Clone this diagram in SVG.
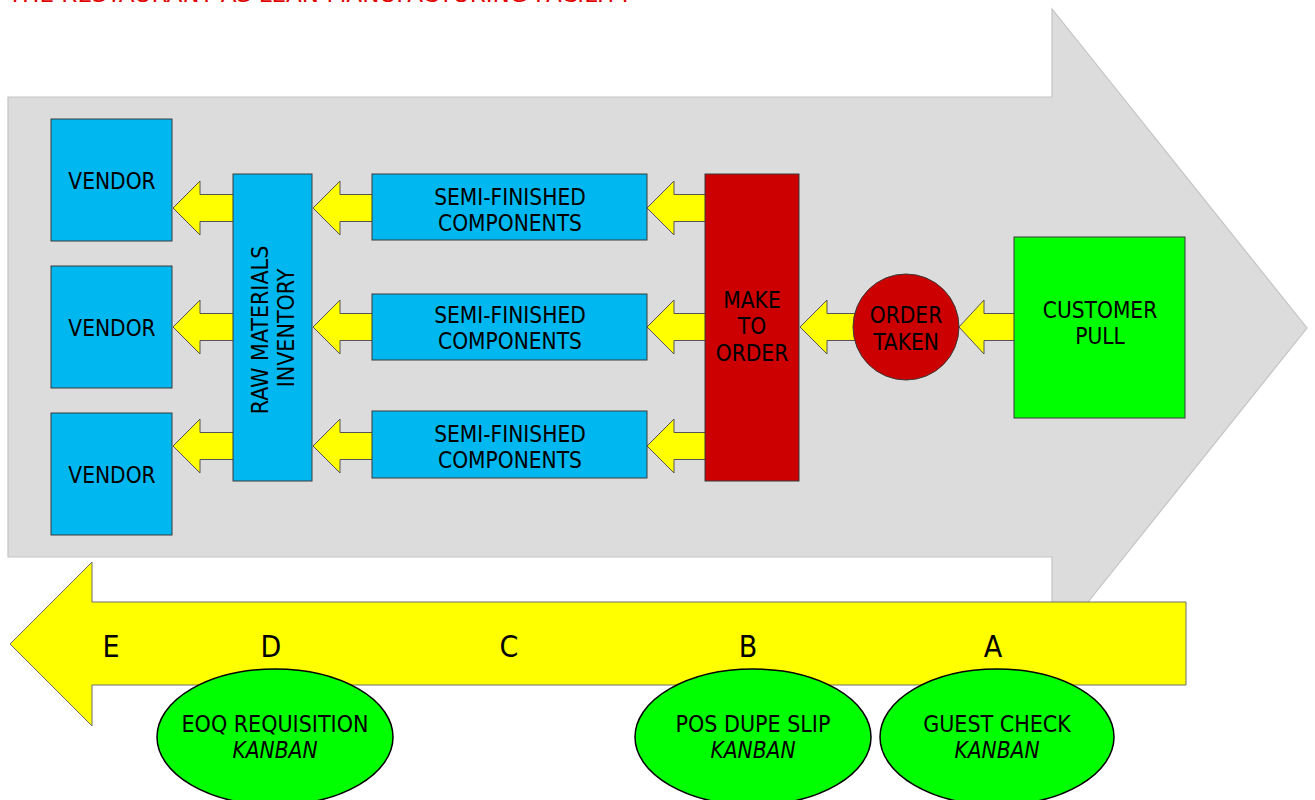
<svg xmlns="http://www.w3.org/2000/svg" width="1315" height="800" viewBox="0 0 1315 800">
<style>
  text { font-family: "DejaVu Sans Condensed", "DejaVu Sans", sans-serif; font-stretch: condensed; fill: #000; text-anchor: middle; font-size: 22.5px; }
  .blue { fill: #00b7ef; stroke: #3a3a3a; stroke-width: 1; }
  .red { fill: #cc0000; stroke: #3a3a3a; stroke-width: 1; }
  .green { fill: #00ff00; stroke: #3a3a3a; stroke-width: 1; }
  .kanban { fill: #00ff00; stroke: #000; stroke-width: 1.5; }
  .flow { fill: #ffff00; stroke: #555; stroke-width: 1; stroke-linejoin: miter; }
  .big { font-size: 30px; }
  .ital { font-style: italic; }
</style>
<rect width="1315" height="800" fill="#ffffff"/>
<text x="8" y="2" style="text-anchor:start; fill:#e00000; font-size:22px" textLength="624" lengthAdjust="spacingAndGlyphs">THE RESTAURANT AS LEAN MANUFACTURING FACILITY</text>

<g id="backbone">
  <polygon points="8,97 1052,97 1052,9 1307,328 1052,647 1052,557 8,557" fill="#dcdcdc" stroke="#c4c4c4" stroke-width="1.2"/>
</g>

<g id="return-arrow">
  <polygon points="1186,602 92,602 92,562 10,644 92,726 92,685 1186,685" fill="#ffff00" stroke="#6f6f6f" stroke-width="1"/>
  <text class="big" x="111" y="657">E</text>
  <text class="big" x="271" y="657">D</text>
  <text class="big" x="509" y="657">C</text>
  <text class="big" x="748" y="657">B</text>
  <text class="big" x="993" y="657">A</text>
</g>

<g id="connectors">
  <polygon class="flow" points="173,208 200,181 200,194.5 240,194.5 240,221.5 200,221.5 200,235"/>
  <polygon class="flow" points="173,327 200,300 200,313.5 240,313.5 240,340.5 200,340.5 200,354"/>
  <polygon class="flow" points="173,446 200,419 200,432.5 240,432.5 240,459.5 200,459.5 200,473"/>
  <polygon class="flow" points="313,208 340,181 340,194.5 380,194.5 380,221.5 340,221.5 340,235"/>
  <polygon class="flow" points="313,327 340,300 340,313.5 380,313.5 380,340.5 340,340.5 340,354"/>
  <polygon class="flow" points="313,446 340,419 340,432.5 380,432.5 380,459.5 340,459.5 340,473"/>
  <polygon class="flow" points="647,208 674,181 674,194.5 712,194.5 712,221.5 674,221.5 674,235"/>
  <polygon class="flow" points="647,327 674,300 674,313.5 712,313.5 712,340.5 674,340.5 674,354"/>
  <polygon class="flow" points="647,446 674,419 674,432.5 712,432.5 712,459.5 674,459.5 674,473"/>
  <polygon class="flow" points="800,327 827,300 827,313.5 862,313.5 862,340.5 827,340.5 827,354"/>
  <polygon class="flow" points="959,327 984,300 984,313.5 1020,313.5 1020,340.5 984,340.5 984,354"/>
</g>

<g id="vendor1"><rect class="blue" x="51" y="119" width="121" height="122"/><text x="112" y="189">VENDOR</text></g>
<g id="vendor2"><rect class="blue" x="51" y="266" width="121" height="122"/><text x="112" y="336">VENDOR</text></g>
<g id="vendor3"><rect class="blue" x="51" y="413" width="121" height="122"/><text x="112" y="483">VENDOR</text></g>

<g id="raw-materials">
  <rect class="blue" x="233" y="174" width="79" height="307"/>
  <g transform="translate(272,330) rotate(-90)">
    <text x="0" y="-4" style="font-size:23px">RAW MATERIALS</text>
    <text x="2" y="22" style="font-size:23px">INVENTORY</text>
  </g>
</g>

<g id="semi1"><rect class="blue" x="372" y="174" width="275" height="66"/><text x="510" y="205">SEMI-FINISHED</text><text x="510" y="231">COMPONENTS</text></g>
<g id="semi2"><rect class="blue" x="372" y="294" width="275" height="66"/><text x="510" y="323">SEMI-FINISHED</text><text x="510" y="349">COMPONENTS</text></g>
<g id="semi3"><rect class="blue" x="372" y="411" width="275" height="67"/><text x="510" y="442">SEMI-FINISHED</text><text x="510" y="468">COMPONENTS</text></g>

<g id="make-to-order">
  <rect class="red" x="705" y="174" width="94" height="307"/>
  <text x="752" y="308">MAKE</text><text x="752" y="334">TO</text><text x="752" y="361">ORDER</text>
</g>

<g id="order-taken">
  <circle class="red" cx="906" cy="327" r="53"/>
  <text x="906" y="323">ORDER</text><text x="906" y="350">TAKEN</text>
</g>

<g id="customer-pull">
  <rect class="green" x="1014" y="237" width="171" height="181"/>
  <text x="1100" y="318">CUSTOMER</text><text x="1100" y="344">PULL</text>
</g>

<g id="eoq-kanban">
  <ellipse class="kanban" cx="275" cy="737" rx="118" ry="68"/>
  <text x="275" y="732" style="font-size:23px">EOQ REQUISITION</text>
  <text class="ital" x="275" y="758">KANBAN</text>
</g>
<g id="pos-kanban">
  <ellipse class="kanban" cx="753" cy="737" rx="118" ry="68"/>
  <text x="753" y="732" style="font-size:23px">POS DUPE SLIP</text>
  <text class="ital" x="753" y="758">KANBAN</text>
</g>
<g id="guest-kanban">
  <ellipse class="kanban" cx="997" cy="737" rx="117" ry="68"/>
  <text x="997" y="732" style="font-size:23px">GUEST CHECK</text>
  <text class="ital" x="997" y="758">KANBAN</text>
</g>
</svg>
